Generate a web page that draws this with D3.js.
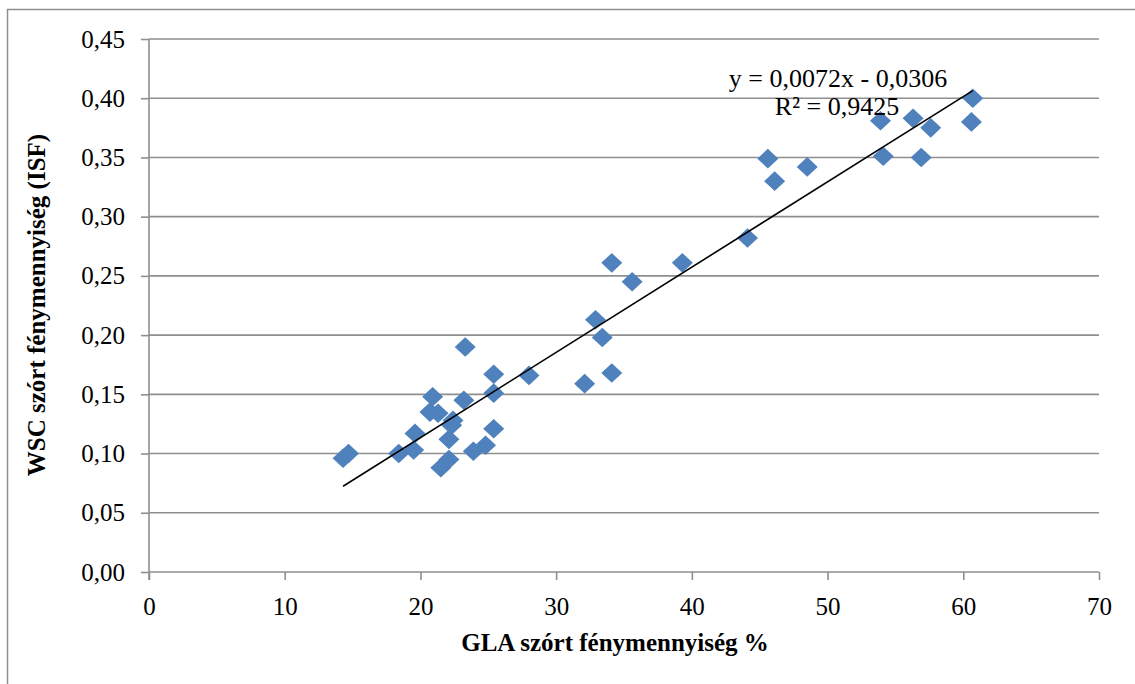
<!DOCTYPE html>
<html>
<head>
<meta charset="utf-8">
<script src="https://cdn.jsdelivr.net/npm/d3@7/dist/d3.min.js"></script>
<style>
  html, body { margin: 0; padding: 0; background: #fff; }
  svg { display: block; }
  svg text { font-family: "Liberation Serif", "Times New Roman", serif !important; fill: #000; }
</style>
</head>
<body>
<svg id="chart" width="1135" height="684"></svg>
<script>
// ---- data ----
const glaValues = [14.3, 14.7, 18.4, 19.5, 19.6, 21.5, 22.1, 22.1, 22.3, 22.4,
                   20.7, 21.3, 20.9, 23.2, 23.3, 23.9, 24.8, 25.4, 25.4, 25.4,
                   28.0, 32.1, 34.1, 32.9, 33.4, 34.1, 35.6, 39.3, 44.1, 45.6,
                   46.1, 48.5, 53.9, 54.1, 56.3, 56.9, 57.6, 60.7, 60.6];
const wscValues = [0.096, 0.100, 0.100, 0.103, 0.117, 0.088, 0.095, 0.112, 0.124, 0.128,
                   0.135, 0.134, 0.148, 0.145, 0.190, 0.102, 0.107, 0.121, 0.151, 0.167,
                   0.166, 0.159, 0.168, 0.213, 0.198, 0.261, 0.245, 0.261, 0.282, 0.349,
                   0.330, 0.342, 0.381, 0.351, 0.383, 0.350, 0.375, 0.400, 0.380];
const xTicks = [0, 10, 20, 30, 40, 50, 60, 70];
const yTicks = [0, 0.05, 0.10, 0.15, 0.20, 0.25, 0.30, 0.35, 0.40, 0.45];
const trendSlope = 0.0072;
const trendIntercept = -0.0306;
const trendRange = [14.3, 60.7];
const equationLabel = "y = 0,0072x - 0,0306";
const r2Label = "R² = 0,9425";
const xTitle = "GLA szórt fénymennyiség %";
const yTitle = "WSC szórt fénymennyiség (ISF)";

// ---- layout ----
const svg = d3.select("#chart");
const L = 149, R = 1099, T = 39, B = 572;
const x = d3.scaleLinear().domain([0, 70]).range([L, R]);
const y = d3.scaleLinear().domain([0, 0.45]).range([B, T]);
const gridColor = "#8f8f8f";
const serif = "'Liberation Serif', 'Times New Roman', serif";
const fmtY = v => d3.format(".2f")(v).replace(".", ",");

// outer frame
svg.append("rect").attr("x", 7.5).attr("y", 9.5).attr("width", 1200).attr("height", 800)
  .attr("fill", "none").attr("stroke", "#8f8f8f").attr("stroke-width", 1.5);

// gridlines
svg.append("g").selectAll("line").data(yTicks.filter(d => d > 0)).join("line")
  .attr("x1", L).attr("x2", R)
  .attr("y1", d => y(d)).attr("y2", d => y(d))
  .attr("stroke", gridColor).attr("stroke-width", 1.6);

// y axis
const yAxis = d3.axisLeft(y).tickValues(yTicks).tickSize(8).tickPadding(16).tickFormat(fmtY);
const gy = svg.append("g").attr("transform", `translate(${L},0)`).call(yAxis)
  .attr("font-family", serif).attr("font-size", 25);
gy.select(".domain").remove();
gy.selectAll(".tick line").attr("stroke", gridColor).attr("stroke-width", 1.6);
gy.selectAll(".tick text").style("font-family", serif).style("font-size", "25px").attr("dy", "0.32em");
svg.append("line").attr("x1", L).attr("x2", L).attr("y1", T).attr("y2", B + 8)
  .attr("stroke", gridColor).attr("stroke-width", 1.6);

// x axis
const xAxis = d3.axisBottom(x).tickValues(xTicks).tickSize(8).tickPadding(17).tickFormat(d3.format("d"));
const gx = svg.append("g").attr("transform", `translate(0,${B})`).call(xAxis)
  .attr("font-family", serif).attr("font-size", 25);
gx.select(".domain").remove();
gx.selectAll(".tick line").attr("stroke", gridColor).attr("stroke-width", 1.6);
gx.selectAll(".tick text").style("font-family", serif).style("font-size", "25px").attr("dy", "0.71em");
svg.append("line").attr("x1", L).attr("x2", R).attr("y1", B).attr("y2", B)
  .attr("stroke", gridColor).attr("stroke-width", 1.6);

// points (diamonds)
const pts = glaValues.map((v, i) => ({ gx: v, wy: wscValues[i] }));
const hw = 10.5, hh = 9.8;
svg.append("g").selectAll("path").data(pts).join("path")
  .attr("d", d => {
    const cx = x(d.gx), cy = y(d.wy);
    return `M${cx},${cy - hh}L${cx + hw},${cy}L${cx},${cy + hh}L${cx - hw},${cy}Z`;
  })
  .attr("fill", "#4f81bd");

// trendline
svg.append("line")
  .attr("x1", x(trendRange[0])).attr("y1", y(trendSlope * trendRange[0] + trendIntercept))
  .attr("x2", x(trendRange[1])).attr("y2", y(trendSlope * trendRange[1] + trendIntercept))
  .attr("stroke", "#000").attr("stroke-width", 1.6);

// equation
svg.append("text").attr("x", 838).attr("y", 87).attr("text-anchor", "middle")
  .style("font-size", "26px").text(equationLabel);
svg.append("text").attr("x", 837).attr("y", 115).attr("text-anchor", "middle")
  .style("font-size", "26px").text(r2Label);

// axis titles
svg.append("text").attr("x", 615).attr("y", 651).attr("text-anchor", "middle")
  .style("font-size", "25px").attr("font-weight", "bold").text(xTitle);
svg.append("text").attr("transform", "translate(45,305) rotate(-90)").attr("text-anchor", "middle")
  .style("font-size", "25px").attr("font-weight", "bold").text(yTitle);
</script>
</body>
</html>
